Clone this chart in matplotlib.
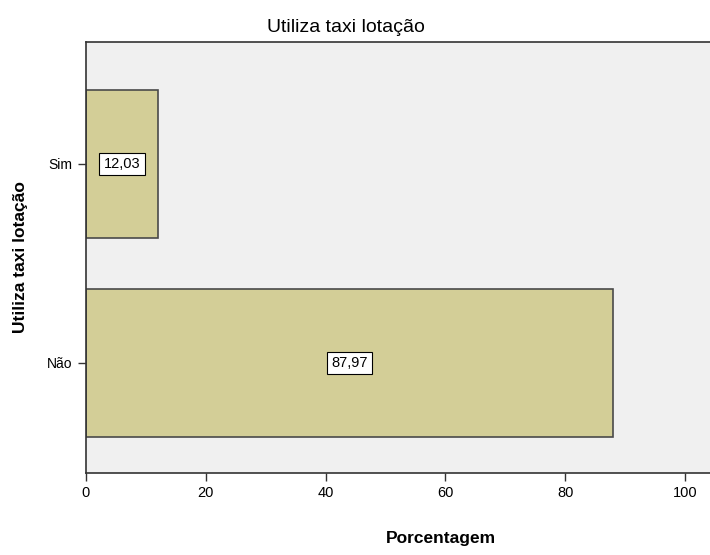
import matplotlib.pyplot as plt

plt.rcParams['font.family'] = ['Liberation Sans', 'DejaVu Sans']

categorias = ['Não', 'Sim']
porcentagem = [87.97, 12.03]
rotulos = ['87,97', '12,03']
xticks = [0, 20, 40, 60, 80, 100]

fig = plt.figure(figsize=(7.1, 5.55), dpi=100)
ax = fig.add_axes([86 / 710, 82 / 555, 1.0, 431 / 555])
ax.set_facecolor('#f0f0f0')

ypos = list(range(len(categorias)))
ax.barh(ypos, porcentagem, height=0.744, color='#d3ce97',
        edgecolor='#4a4a4a', linewidth=1.2)

for y, v, t in zip(ypos, porcentagem, rotulos):
    ax.text(v / 2, y, t, ha='center', va='center', fontsize=10.5,
            bbox=dict(boxstyle='square,pad=0.3', facecolor='white',
                      edgecolor='black', linewidth=0.8))

# axes run past the right edge of the picture, like the original
ax.set_xlim(0, 104.2 * (1.0 / ((710 - 86) / 710)))
ax.set_ylim(-0.553, 1.613)
ax.set_xticks(xticks)
ax.set_xticklabels([str(x) for x in xticks], fontsize=10.5)
ax.set_yticks(ypos)
ax.set_yticklabels(categorias, fontsize=10)
ax.tick_params(axis='both', direction='out', length=6, width=1, color='#333333')

for s in ['top', 'left', 'bottom']:
    ax.spines[s].set_color('#333333')
    ax.spines[s].set_linewidth(1.2)
ax.spines['right'].set_visible(False)

ax.set_xlabel('Porcentagem', fontsize=12.5, fontweight='bold', labelpad=22)
ax.set_ylabel('Utiliza taxi lotação', fontsize=12.5, fontweight='bold', labelpad=14)
fig.text(346 / 710, 1 - 27 / 555, 'Utiliza taxi lotação', ha='center',
         va='center', fontsize=14)

fig.savefig('out.png', dpi=100)
